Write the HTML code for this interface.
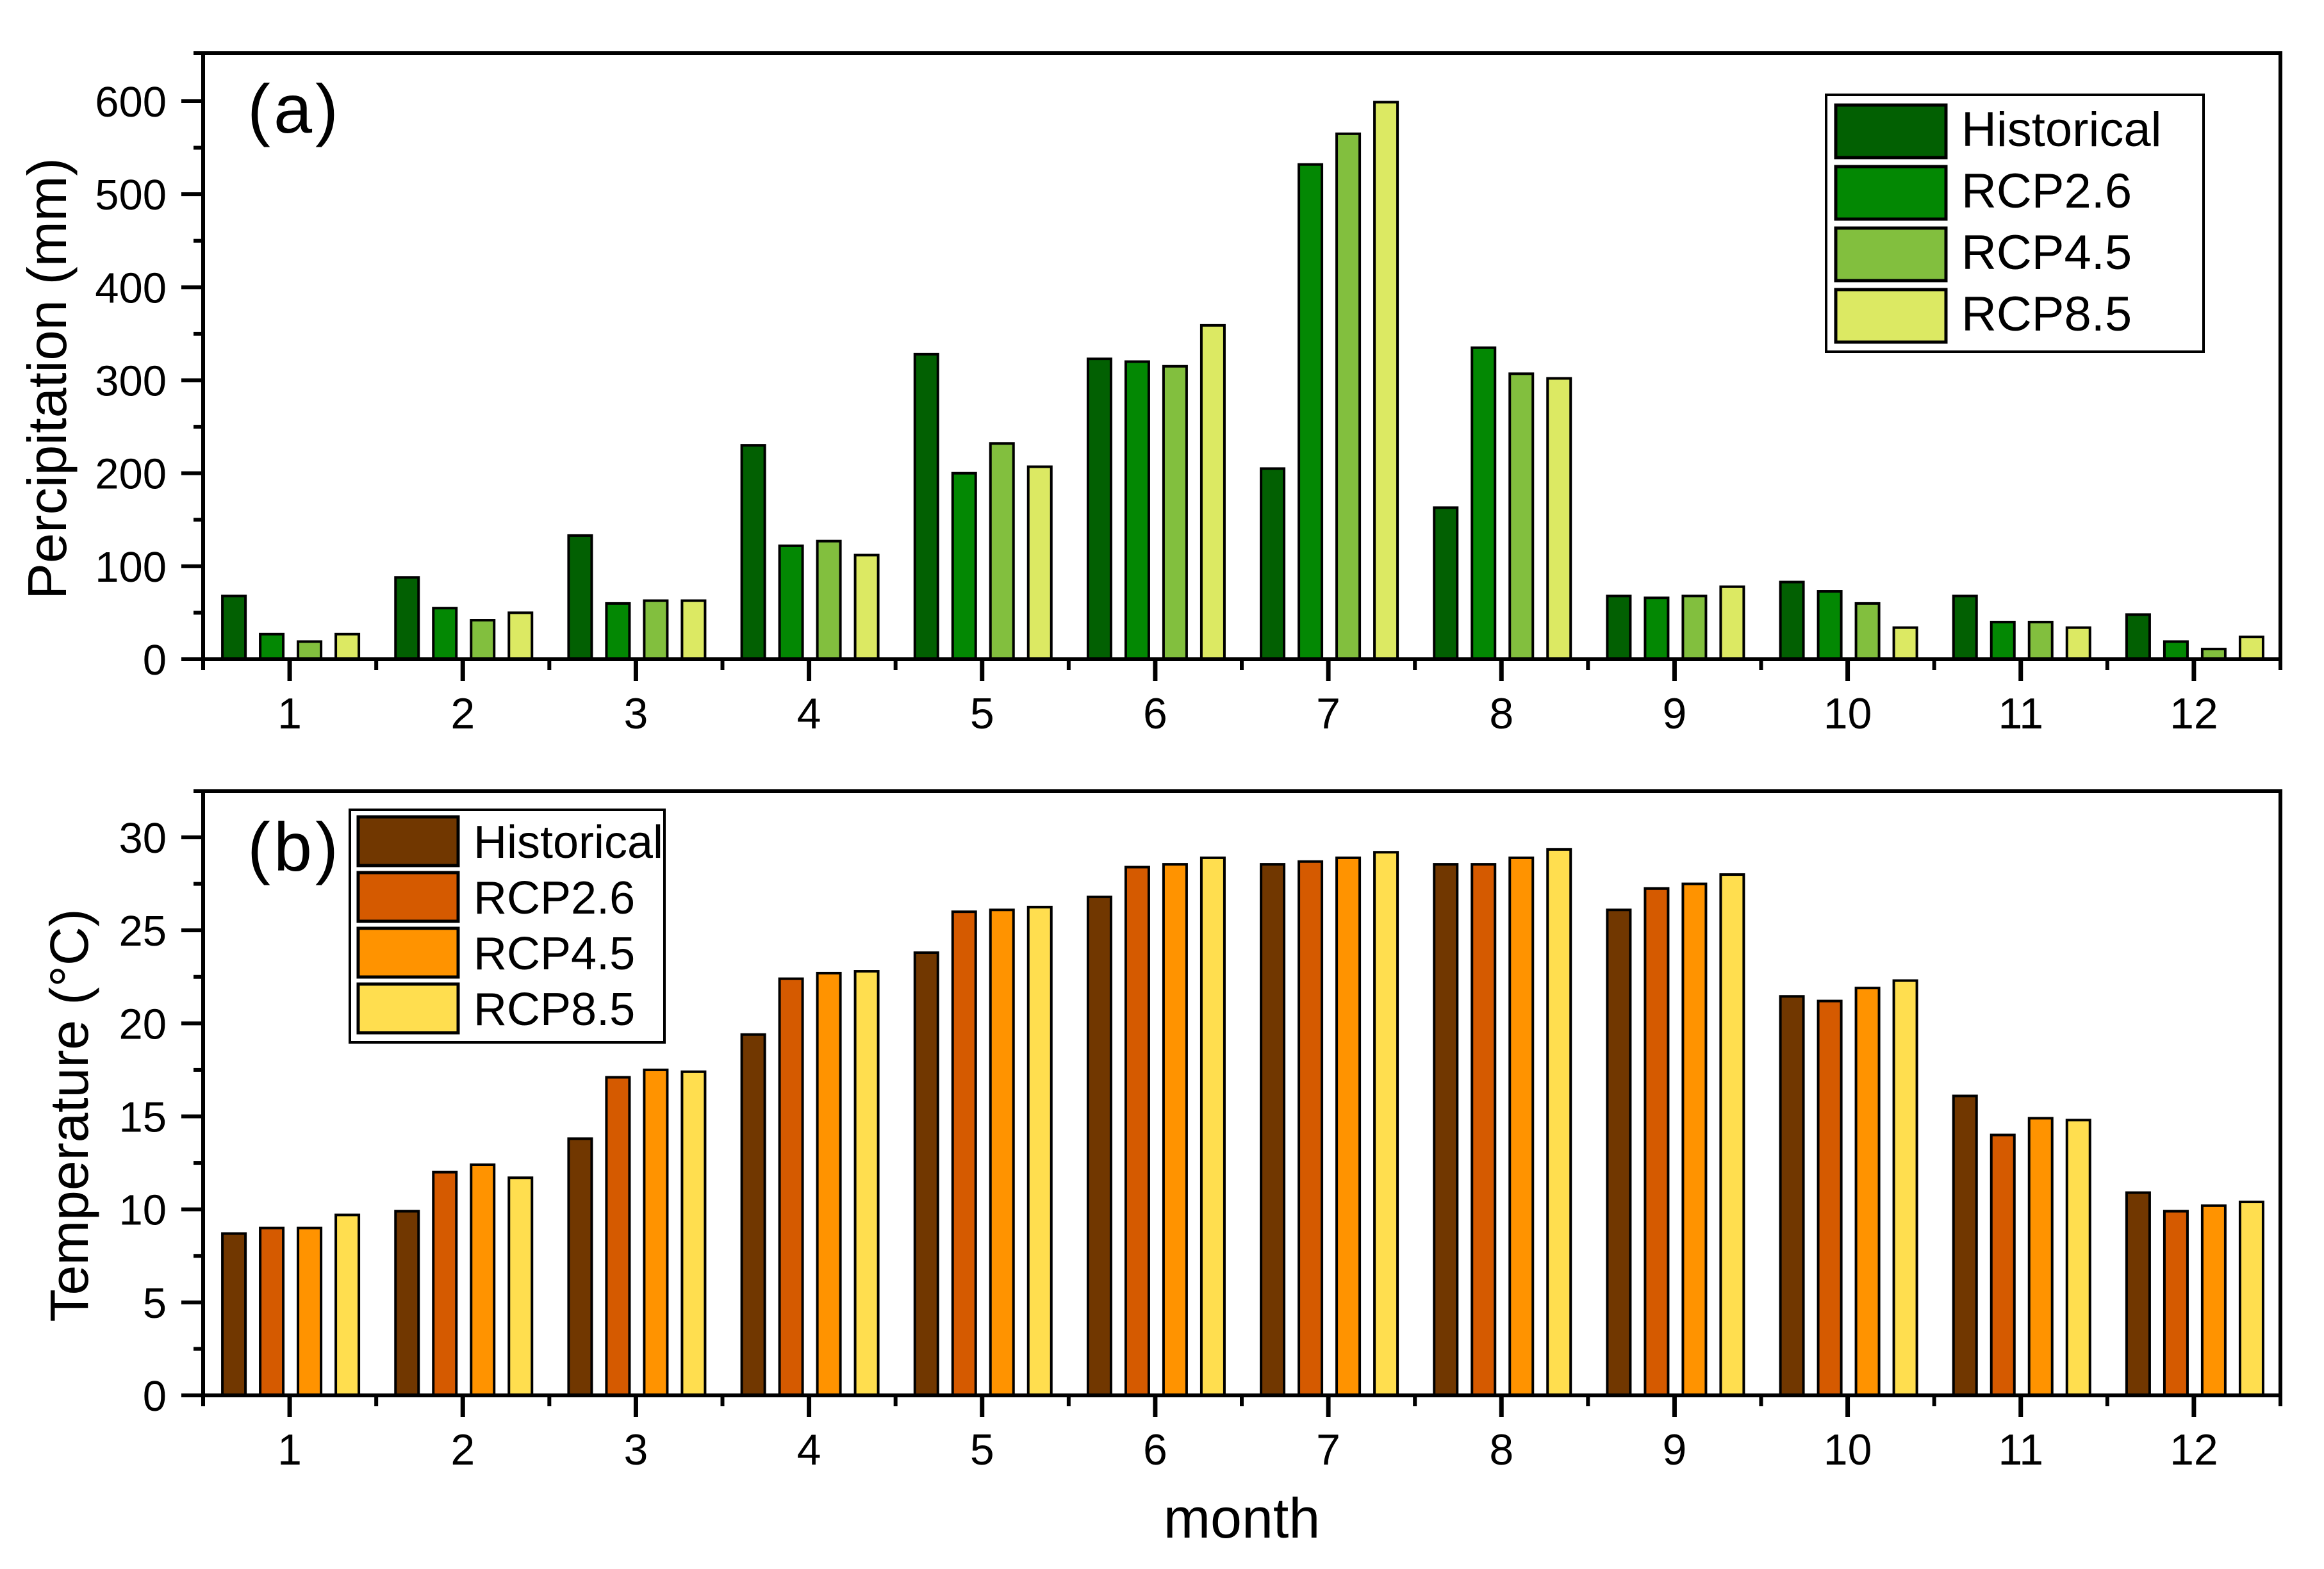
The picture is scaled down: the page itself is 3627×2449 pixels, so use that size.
<!DOCTYPE html>
<html><head><meta charset="utf-8">
<style>
html,body{margin:0;padding:0;background:#fff;}
svg{display:block;}
text{font-family:"Liberation Sans",Arial,sans-serif;fill:#000;}
</style></head>
<body>
<svg id="fig" width="3627" height="2449" viewBox="0 0 3627 2449" xmlns="http://www.w3.org/2000/svg">
<rect x="0" y="0" width="3627" height="2449" fill="#fff"/>
</svg>
<script>
const months = [1,2,3,4,5,6,7,8,9,10,11,12];
const seriesNames = ["Historical","RCP2.6","RCP4.5","RCP8.5"];
const precipHist = [68,88,133,230,328,323,205,163,68,83,68,48];
const precipRcp26 = [27,55,60,122,200,320,532,335,66,73,40,19];
const precipRcp45 = [19,42,63,127,232,315,565,307,68,60,40,11];
const precipRcp85 = [27,50,63,112,207,359,599,302,78,34,34,24];
const tempHist = [8.7,9.9,13.8,19.4,23.8,26.8,28.55,28.55,26.1,21.45,16.1,10.9];
const tempRcp26 = [9.0,12.0,17.1,22.4,26.0,28.4,28.7,28.55,27.25,21.2,14.0,9.9];
const tempRcp45 = [9.0,12.4,17.5,22.7,26.1,28.55,28.9,28.9,27.5,21.9,14.9,10.2];
const tempRcp85 = [9.7,11.7,17.4,22.8,26.25,28.9,29.2,29.35,28.0,22.3,14.8,10.4];
const precipTicks = [0,100,200,300,400,500,600];
const tempTicks = [0,5,10,15,20,25,30];

const NS = "http://www.w3.org/2000/svg";
const svg = document.getElementById("fig");
function mk(tag, attrs, parent){
  const e = document.createElementNS(NS, tag);
  for (const k in attrs) e.setAttribute(k, attrs[k]);
  (parent||svg).appendChild(e);
  return e;
}
const X0 = 317, X1 = 3559;
function xScale(m){ return X0 + (m - 0.5) * (X1 - X0) / 12; }

function panel(cfg){
  const g = mk("g", {});
  
  
  const y = v => cfg.base - (v - 0) * (cfg.base - cfg.refY) / cfg.refV;
  const top = cfg.top;
  // bars
  cfg.data.forEach((arr, si) => {
    arr.forEach((v, mi) => {
      const cx = xScale(months[mi]) + 1.5 + (si - 1.5) * 59;
      const yt = y(v);
      const r = mk("rect", {x: cx - 18, y: yt, width: 36, height: cfg.base - yt, fill: cfg.colors[si], stroke: "#000", "stroke-width": 4}, g);
      
      
    });
  });
  // frame
  const fr = mk("path", {d: `M302 ${top} H${X1} V${cfg.base+15} M${X0} ${top-3} V${cfg.base+3} M${X0-34} ${cfg.base} H${X1+3}`, stroke: "#000", "stroke-width": 6, fill: "none"}, g);
  
  
  // y ticks
  cfg.ticks.forEach((t, i) => {
    const yy = y(t);
    const tk = mk("line", {x1: X0 - 34, x2: X0, y1: yy, y2: yy, stroke: "#000", "stroke-width": 6}, g);
    
    
    const lb = mk("text", {x: 260, y: yy + 24, "text-anchor": "end", "font-size": 67}, g);
    lb.textContent = t;
    
    
    if (i < cfg.ticks.length - 1) {
      const ym = y((t + cfg.ticks[i+1]) / 2);
      const mt = mk("line", {x1: X0 - 15, x2: X0, y1: ym, y2: ym, stroke: "#000", "stroke-width": 6}, g);
      
      
    }
  });
  // x ticks
  months.forEach(m => {
    const xx = xScale(m);
    const tk = mk("line", {x1: xx, x2: xx, y1: cfg.base, y2: cfg.base + 34, stroke: "#000", "stroke-width": 7}, g);
    
    
    const lb = mk("text", {x: xx, y: cfg.base + 108, "text-anchor": "middle", "font-size": 68}, g);
    lb.textContent = m;
    
    
  });
  for (let k = 0; k <= 12; k++) {
    const xx = xScale(k + 0.5);
    const mt = mk("line", {x1: xx, x2: xx, y1: cfg.base, y2: cfg.base + 17, stroke: "#000", "stroke-width": 6}, g);
    
    
  }
  // y title
  const yt = mk("text", {x: 0, y: 0, "text-anchor": "middle", "font-size": cfg.titleSize, transform: `translate(${cfg.titleX},${cfg.titleY}) rotate(-90)`}, g);
  yt.textContent = cfg.title;
  
  
  // panel label
  const pl = mk("text", {x: 386, y: cfg.labelY, "font-size": 108, "letter-spacing": "5"}, g);
  pl.textContent = cfg.label;
  
  
  // legend
  const L = cfg.legend;
  const lg = mk("g", {}, g);
  
  
  mk("rect", {x: L.x, y: L.y, width: L.w, height: L.h, fill: "#fff", stroke: "#000", "stroke-width": 4}, lg);
  seriesNames.forEach((s, i) => {
    const sw = mk("rect", {x: L.sx, y: L.sy + i * L.pitch, width: L.sw, height: L.sh, fill: cfg.colors[i], stroke: "#000", "stroke-width": 5}, lg);
    
    
    const tx = mk("text", {x: L.tx, y: L.ty + i * L.pitch, "font-size": L.fs}, lg);
    tx.textContent = s;
    
    
  });
}

panel({name: "precipitation-panel", prefix: "a", top: 83, base: 1029, refV: 600, refY: 158,
  data: [precipHist, precipRcp26, precipRcp45, precipRcp85],
  colors: ["#026002", "#038803", "#82bf3e", "#dce963"],
  ticks: precipTicks, title: "Percipitation (mm)", titleSize: 85, titleX: 103, titleY: 591,
  label: "(a)", labelY: 207,
  legend: {x: 2850, y: 148, w: 589, h: 401, sx: 2865, sy: 164, sw: 172, sh: 82, pitch: 96, tx: 3061, ty: 228, fs: 76}
});
panel({name: "temperature-panel", prefix: "b", top: 1235, base: 2178, refV: 30, refY: 1307,
  data: [tempHist, tempRcp26, tempRcp45, tempRcp85],
  colors: ["#713700", "#d55a00", "#ff9300", "#ffde4f"],
  ticks: tempTicks, title: "Temperature (°C)", titleSize: 84, titleX: 137, titleY: 1741,
  label: "(b)", labelY: 1359,
  legend: {x: 546, y: 1264, w: 491, h: 363, sx: 559, sy: 1275, sw: 156, sh: 76, pitch: 87, tx: 739, ty: 1339, fs: 72}
});
const mt = mk("text", {x: 1938, y: 2400, "text-anchor": "middle", "font-size": 88});
mt.textContent = "month";


</script>
</body></html>
